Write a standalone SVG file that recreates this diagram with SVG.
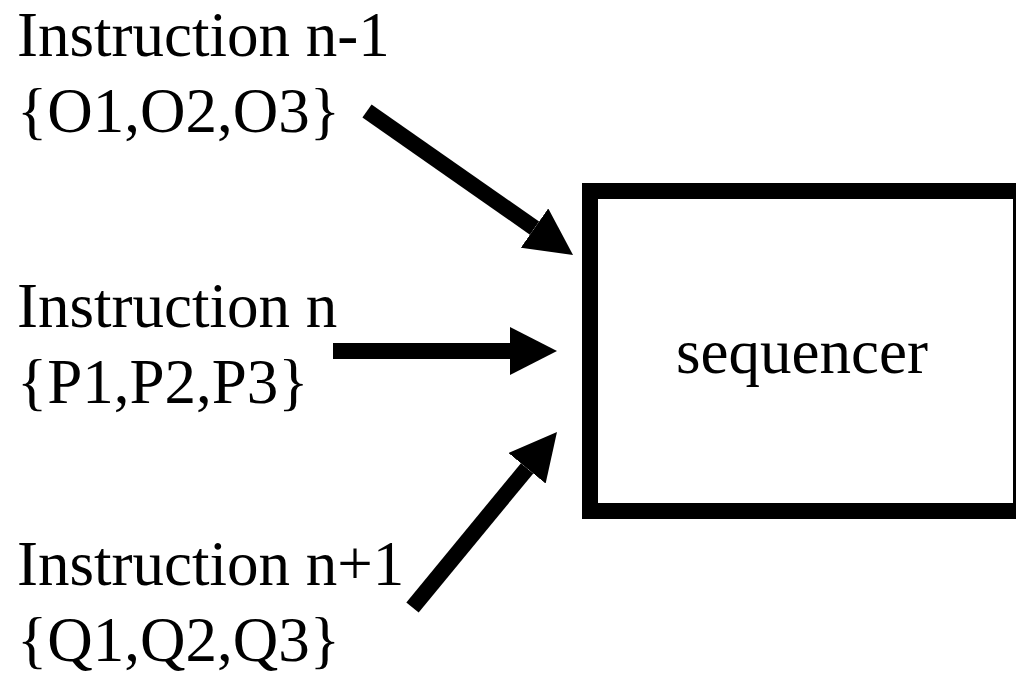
<svg xmlns="http://www.w3.org/2000/svg" width="1016" height="675" viewBox="0 0 1016 675">
  <style>
    .lbl { font-family: "Liberation Serif", "Times New Roman", serif; font-size: 63px; fill: #000; }
    .box { fill: #fff; stroke: #000; stroke-width: 16; }
    .arrow { stroke: #000; stroke-width: 16; stroke-linecap: butt; fill: none; marker-end: url(#head); }
  </style>
  <defs>
    <marker id="head" markerUnits="userSpaceOnUse" viewBox="0 0 47 48" markerWidth="47" markerHeight="48" refX="0" refY="24" orient="auto">
      <path d="M0,0 L47,24 L0,48 Z" fill="#000"/>
    </marker>
  </defs>
  <rect width="1016" height="675" fill="#fff"/>

  <!-- inputs -->
  <g id="instr-prev">
    <text class="lbl" x="17" y="56">Instruction n-1</text>
    <text class="lbl" x="17" y="132">{O1,O2,O3}</text>
  </g>
  <g id="instr-cur">
    <text class="lbl" x="17" y="327">Instruction n</text>
    <text class="lbl" x="17" y="403">{P1,P2,P3}</text>
  </g>
  <g id="instr-next">
    <text class="lbl" x="17" y="585">Instruction n+1</text>
    <text class="lbl" x="17" y="661">{Q1,Q2,Q3}</text>
  </g>

  <!-- sequencer block -->
  <g id="sequencer">
    <rect class="box" x="590" y="191" width="431" height="320"/>
    <text class="lbl" x="802" y="373" text-anchor="middle">sequencer</text>
  </g>

  <!-- connectors -->
  <g id="connectors">
    <line class="arrow" x1="367" y1="111" x2="534.5" y2="228.1"/>
    <line class="arrow" x1="333" y1="351" x2="510" y2="351"/>
    <line class="arrow" x1="412.5" y1="607.5" x2="527.1" y2="468.3"/>
  </g>
</svg>
